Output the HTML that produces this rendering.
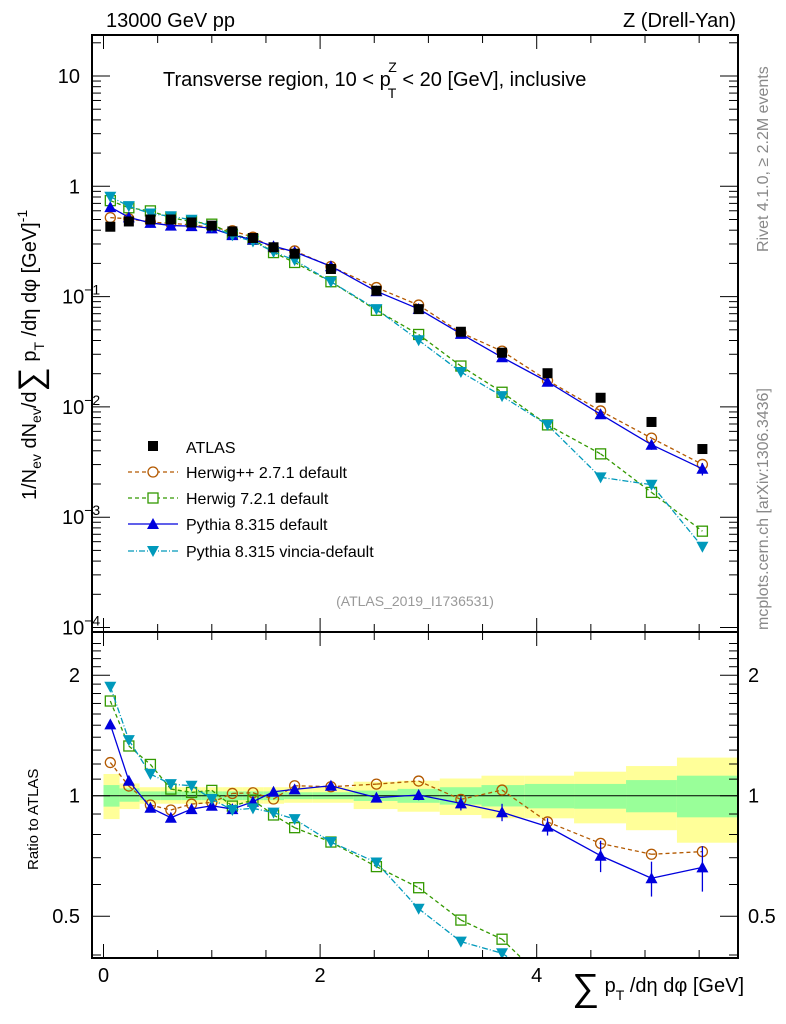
<!DOCTYPE html>
<html><head><meta charset="utf-8"><style>
html,body{margin:0;padding:0;background:#fff;width:786px;height:1024px;overflow:hidden;position:relative}
svg{display:block;font-family:"Liberation Sans",sans-serif}
</style></head><body>
<svg id="c" width="786" height="1024" viewBox="0 0 786 1024" style="position:absolute;left:0;top:0;overflow:hidden"></svg>
<script>
const xCenters=[0.063,0.234,0.433,0.622,0.813,1.0,1.19,1.38,1.57,1.765,2.10,2.52,2.91,3.30,3.68,4.10,4.59,5.06,5.53];
const atlasVals=[0.43,0.48,0.5,0.5,0.47,0.44,0.39,0.34,0.28,0.245,0.178,0.113,0.077,0.048,0.031,0.0202,0.0121,0.0073,0.00415];
const herwigppRatio=[1.21,1.057,0.948,0.921,0.953,0.962,1.013,1.017,0.981,1.059,1.053,1.069,1.088,0.979,1.033,0.86,0.76,0.714,0.725];
const herwig7Ratio=[1.724,1.331,1.197,1.039,1.019,1.031,0.942,0.975,0.895,0.832,0.766,0.665,0.589,0.489,0.438,0.34,0.31,0.23,0.18];
const pythiaRatio=[1.507,1.09,0.933,0.881,0.926,0.944,0.926,0.966,1.023,1.037,1.059,0.989,1.004,0.957,0.909,0.837,0.708,0.622,0.662];
const vinciaRatio=[1.872,1.377,1.133,1.069,1.059,0.981,0.921,0.930,0.907,0.874,0.766,0.681,0.522,0.432,0.404,0.34,0.19,0.27,0.13];
const pythiaErr=[0.01,0.01,0.01,0.01,0.01,0.01,0.01,0.01,0.02,0.02,0.01,0.02,0.03,0.04,0.05,0.05,0.09,0.1,0.13];
const yellowUp=[1.133,1.073,1.05,1.05,1.05,1.05,1.05,1.05,1.05,1.05,1.05,1.084,1.09,1.104,1.122,1.122,1.148,1.186,1.245];
const yellowDn=[0.874,0.926,0.955,0.955,0.955,0.955,0.955,0.955,0.955,0.96,0.96,0.926,0.912,0.895,0.878,0.878,0.853,0.82,0.763];
const greenUp=[1.063,1.043,1.025,1.025,1.025,1.025,1.025,1.025,1.025,1.02,1.02,1.03,1.04,1.05,1.063,1.07,1.07,1.094,1.122];
const greenDn=[0.939,0.966,0.975,0.975,0.975,0.975,0.975,0.975,0.975,0.98,0.98,0.97,0.96,0.95,0.94,0.93,0.928,0.909,0.883];
const xTicks=[0,2,4];
const mainTicks=[10,1,0.1,0.01,0.001,0.0001];
const mainTickLabels=["10","1","10","10","10","10"];
const mainTickExp=["","","−1","−2","−3","−4"];
const ratioTicks=[2,1,0.5];

const L=92,R=738,T=35,MB=632,B=958;
const X=v=>103.5+v*108.3;
const YM=v=>186.3-Math.log10(v)*110.3;
const YR=v=>795.7-Math.log2(v)*120.5;
const NS="http://www.w3.org/2000/svg";
const svg=document.getElementById('c');
function mk(tag,at,parent){const e=document.createElementNS(NS,tag);for(const k in at)e.setAttribute(k,at[k]);(parent||svg).appendChild(e);return e;}
function txt(s,at,parent){const e=mk('text',at,parent);e.textContent=s;return e;}

const edges=[0];for(let i=0;i<xCenters.length-1;i++)edges.push((xCenters[i]+xCenters[i+1])/2);edges.push(5.86);
const bandG=mk('g',{});


for(let i=0;i<xCenters.length;i++){
 const x0=X(edges[i]),x1=Math.min(X(edges[i+1]),R);
 const yb=mk('rect',{x:x0,y:YR(yellowUp[i]),width:x1-x0,height:YR(yellowDn[i])-YR(yellowUp[i]),fill:'#ffff99'},bandG);
 
 
 const gb=mk('rect',{x:x0,y:YR(greenUp[i]),width:x1-x0,height:YR(greenDn[i])-YR(greenUp[i]),fill:'#99ff99'},bandG);
 
 
}
mk('line',{x1:L,x2:R,y1:YR(1),y2:YR(1),stroke:'#000','stroke-width':1});

function marker(g,type,x,y,col){
 if(type==='sq')mk('rect',{x:x-5,y:y-5,width:10,height:10,fill:'#000'},g);
 else if(type==='circ')mk('circle',{cx:x,cy:y,r:5,fill:'none',stroke:col,'stroke-width':1.3},g);
 else if(type==='osq')mk('rect',{x:x-5,y:y-5,width:10,height:10,fill:'none',stroke:col,'stroke-width':1.3},g);
 else if(type==='tri')mk('path',{d:`M${x},${y-6}L${x+6},${y+5}L${x-6},${y+5}Z`,fill:col},g);
 else if(type==='itri')mk('path',{d:`M${x},${y+6}L${x+6},${y-5}L${x-6},${y-5}Z`,fill:col},g);
}
function clipSeg(p0,p1,ymin,ymax){
 let [x0,y0]=p0,[x1,y1]=p1;
 if((y0<ymin&&y1<ymin)||(y0>ymax&&y1>ymax))return null;
 const at=(y)=>x0+(x1-x0)*(y-y0)/(y1-y0);
 if(y0>ymax){x0=at(ymax);y0=ymax;}else if(y0<ymin){x0=at(ymin);y0=ymin;}
 // recompute with original for second point
 const ox0=p0[0],oy0=p0[1];
 const at2=(y)=>ox0+(x1-ox0)*(y-oy0)/(y1-oy0);
 if(y1>ymax){x1=at2(ymax);y1=ymax;}else if(y1<ymin){x1=at2(ymin);y1=ymin;}
 return [x0,y0,x1,y1];
}
const series=[
 {name:'herwigpp',r:herwigppRatio,col:'#b35900',m:'circ',dash:'4,3'},
 {name:'herwig7',r:herwig7Ratio,col:'#339900',m:'osq',dash:'4,3'},
 {name:'pythia',r:pythiaRatio,col:'#0000dd',m:'tri',dash:'',err:pythiaErr},
 {name:'vincia',r:vinciaRatio,col:'#0099bb',m:'itri',dash:'6,2,1,2'}
];
for(const s of series){
 for(const panel of ['main','ratio']){
  const ymin=panel==='main'?T:MB, ymax=panel==='main'?MB:B;
  const g=mk('g',{});
  
  
  const f=panel==='main'?YM:YR;
  const vals=xCenters.map((x,i)=>panel==='main'?atlasVals[i]*s.r[i]:s.r[i]);
  const pts=xCenters.map((x,i)=>[X(x),f(vals[i])]);
  for(let i=0;i<pts.length-1;i++){
   const c=clipSeg(pts[i],pts[i+1],ymin,ymax);
   if(c)mk('line',{x1:c[0],y1:c[1],x2:c[2],y2:c[3],stroke:s.col,'stroke-width':1.3,'stroke-dasharray':s.dash},g);
  }
  pts.forEach((p,i)=>{
   if(p[1]<ymin+4||p[1]>ymax-4)return;
   if(s.err&&s.err[i]>0.02){
    const y1=Math.max(ymin,f(vals[i]*(1+s.err[i]))),y2=Math.min(ymax,f(vals[i]*(1-s.err[i])));
    mk('line',{x1:p[0],x2:p[0],y1:y1,y2:y2,stroke:s.col,'stroke-width':1.3},g);
   }
   marker(g,s.m,p[0],p[1],s.col);
  });
 }
}
const ag=mk('g',{});


xCenters.forEach((x,i)=>{const y=YM(atlasVals[i]);if(y>T&&y<MB)marker(ag,'sq',X(x),y,'#000');});

const f1=mk('rect',{x:L,y:T,width:R-L,height:MB-T,fill:'none',stroke:'#000','stroke-width':2});

const f2=mk('rect',{x:L,y:MB,width:R-L,height:B-MB,fill:'none',stroke:'#000','stroke-width':2});


for(let v=0;v<=5.8;v+=0.5){
 const big=Math.abs(v%2)<1e-6;const len=big?14:8;
 for(const [top,bot] of [[T,MB],[MB,B]]){
  mk('line',{x1:X(v),x2:X(v),y1:bot,y2:bot-len,stroke:'#000'});
  mk('line',{x1:X(v),x2:X(v),y1:top,y2:top+len,stroke:'#000'});
 }
}
xTicks.forEach(v=>{const t=txt(v,{x:X(v),y:982,'font-size':20,'text-anchor':'middle'});
 });

for(let d=-4;d<=1;d++){
 for(let k=1;k<10;k++){
  const v=k*Math.pow(10,d);const y=YM(v);if(y<T||y>MB)continue;
  const len=k===1?18:9;
  mk('line',{x1:L,x2:L+len,y1:y,y2:y,stroke:'#000'});
  mk('line',{x1:R,x2:R-len,y1:y,y2:y,stroke:'#000'});
 }
}
mainTicks.forEach((v,i)=>{
 const t=txt(mainTickLabels[i],{x:mainTickExp[i]?62:80,y:YM(v)+7,'font-size':20,'text-anchor':mainTickExp[i]?'start':'end'});
 
 if(mainTickExp[i]){const s=mk('tspan',{dy:-9,'font-size':14},t);s.textContent=mainTickExp[i];}
});
for(let v=0.4;v<=2.5;v+=0.1){
 const y=YR(v);if(y<MB||y>B)continue;
 const major=[0.5,1,2].some(m=>Math.abs(m-v)<1e-6);
 const len=major?18:9;
 mk('line',{x1:L,x2:L+len,y1:y,y2:y,stroke:'#000'});
 mk('line',{x1:R,x2:R-len,y1:y,y2:y,stroke:'#000'});
}
ratioTicks.forEach(v=>{
 const t=txt(v,{x:80,y:YR(v)+7,'font-size':20,'text-anchor':'end'});
 
 const t2=txt(v,{x:748,y:YR(v)+7,'font-size':20,'text-anchor':'start',fill:'#000'});
 
});
</script>
<svg width="786" height="1024" style="position:absolute;left:0;top:0;overflow:hidden" font-family="Liberation Sans, sans-serif">
 <text x="106" y="27" font-size="20">13000 GeV pp</text>
 <text x="736" y="27" font-size="20" text-anchor="end">Z (Drell-Yan)</text>
 <text x="163" y="86" font-size="20">Transverse region, 10 &lt; p<tspan dy="12" font-size="14" dx="-3">T</tspan><tspan dy="-26" dx="-8" font-size="14">Z</tspan><tspan dy="14"> &lt; 20 [GeV], inclusive</tspan></text>
 <text transform="translate(768,252) rotate(-90)" font-size="16" fill="#888">Rivet 4.1.0, ≥ 2.2M events</text>
 <text transform="translate(768,630) rotate(-90)" font-size="16" fill="#888">mcplots.cern.ch [arXiv:1306.3436]</text>
 <text x="415" y="606" font-size="14" fill="#999" text-anchor="middle">(ATLAS_2019_I1736531)</text>
 <text transform="translate(36,500) rotate(-90)" font-size="20">1/N<tspan font-size="14" dy="5">ev</tspan><tspan dy="-5"> dN</tspan><tspan font-size="14" dy="5">ev</tspan><tspan dy="-5">/d</tspan><tspan font-size="34" dy="6">∑</tspan><tspan dy="-6"> p</tspan><tspan font-size="14" dy="8">T</tspan><tspan dy="-8"> /dη dφ  [GeV]</tspan><tspan font-size="14" dy="-9">-1</tspan></text>
 <text transform="translate(38,870) rotate(-90)" font-size="15">Ratio to ATLAS</text>
 <text x="744" y="992" font-size="20" text-anchor="end"><tspan font-size="38" dy="8">∑</tspan><tspan dy="-8"> p</tspan><tspan font-size="14" dy="8">T</tspan><tspan dy="-8"> /dη dφ [GeV]</tspan></text>
 <g font-size="16">
  <rect x="148" y="441" width="10" height="10" fill="#000"/>
  <text x="186" y="453">ATLAS</text>
  <line x1="128" x2="178" y1="472" y2="472" stroke="#b35900" stroke-width="1.3" stroke-dasharray="4,3"/>
  <circle cx="153" cy="472" r="5" fill="#fff" stroke="#b35900" stroke-width="1.3"/>
  <text x="186" y="478">Herwig++ 2.7.1 default</text>
  <line x1="128" x2="178" y1="498" y2="498" stroke="#339900" stroke-width="1.3" stroke-dasharray="4,3"/>
  <rect x="148" y="493" width="10" height="10" fill="#fff" stroke="#339900" stroke-width="1.3"/>
  <text x="186" y="504">Herwig 7.2.1 default</text>
  <line x1="128" x2="178" y1="524" y2="524" stroke="#0000dd" stroke-width="1.3"/>
  <path d="M153,518L159,529L147,529Z" fill="#0000dd"/>
  <text x="186" y="530">Pythia 8.315 default</text>
  <line x1="128" x2="178" y1="551" y2="551" stroke="#0099bb" stroke-width="1.3" stroke-dasharray="6,2,1,2"/>
  <path d="M153,557L159,546L147,546Z" fill="#0099bb"/>
  <text x="186" y="557">Pythia 8.315 vincia-default</text>
 </g>
</svg>
</body></html>
